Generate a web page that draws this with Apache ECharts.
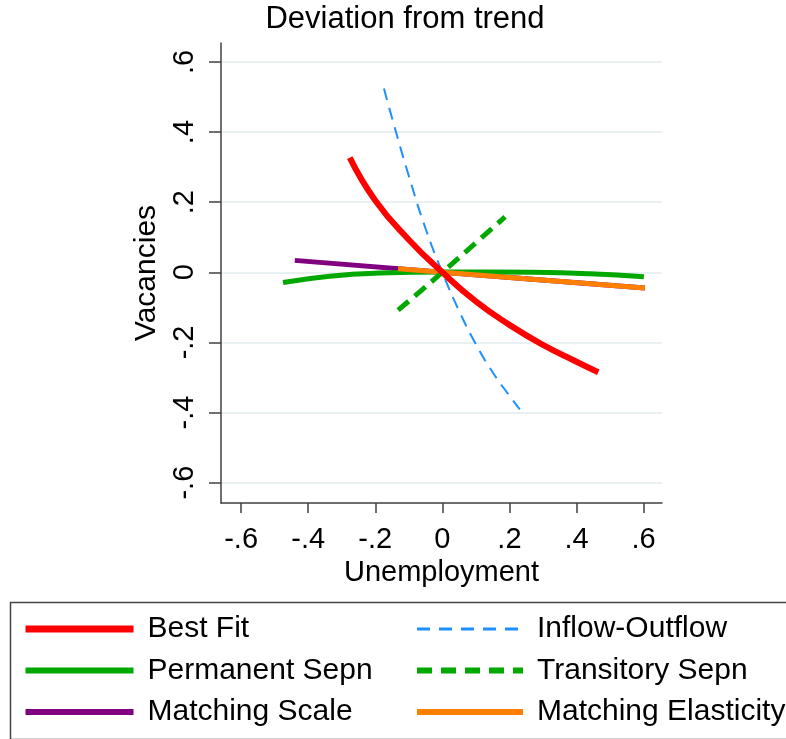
<!DOCTYPE html>
<html>
<head>
<meta charset="utf-8">
<script src="https://cdn.jsdelivr.net/npm/echarts@6/dist/echarts.min.js"></script>
<style>
html,body{margin:0;padding:0;background:#fff;}
#chart{width:786px;height:739px;}
</style>
</head>
<body>
<div id="chart"></div>
<script>
// ---- data ----
const tickValues = [-0.6, -0.4, -0.2, 0, 0.2, 0.4, 0.6];

const bestFitX = [-0.276, -0.2, -0.1, 0, 0.1, 0.2, 0.3, 0.4, 0.465];
const bestFitY = [0.327, 0.205, 0.093, 0, -0.083, -0.15, -0.207, -0.255, -0.285];

const inflowX = [-0.174, -0.15, -0.1, -0.05, 0, 0.05, 0.1, 0.15, 0.2, 0.231];
const inflowY = [0.524, 0.44, 0.275, 0.125, 0, -0.11, -0.205, -0.285, -0.352, -0.391];

const permX = [-0.475, -0.336, -0.187, 0, 0.271, 0.44, 0.601];
const permY = [-0.029, -0.011, -0.002, 0.001, 0, -0.004, -0.013];

const transX = [-0.132, 0, 0.187];
const transY = [-0.108, 0, 0.158];

const scaleX = [-0.44, 0, 0.604];
const scaleY = [0.034, 0, -0.045];

const elastX = [-0.132, 0, 0.604];
const elastY = [0.010, 0, -0.045];

const legendCol1 = ['Best Fit', 'Permanent Sepn', 'Matching Scale'];
const legendCol2 = ['Inflow-Outflow', 'Transitory Sepn', 'Matching Elasticity'];

function zip(xs, ys) { return xs.map((x, i) => [x, ys[i]]); }
function fmt(v) {
  if (Math.abs(v) < 1e-9) return '0';
  return (v < 0 ? '-' : '') + Math.abs(v).toFixed(1).replace(/^0/, '');
}

const FONT = '"Liberation Sans", Arial, sans-serif';
const styles = {
  'Best Fit': {color: '#ff0000', width: 6, type: 'solid', z: 7},
  'Inflow-Outflow': {color: '#1e90ff', width: 2, type: [12, 8], z: 5},
  'Permanent Sepn': {color: '#00a800', width: 5, type: 'solid', z: 3},
  'Transitory Sepn': {color: '#00a800', width: 5, type: [14, 8], z: 6},
  'Matching Scale': {color: '#800080', width: 5, type: 'solid', z: 2},
  'Matching Elasticity': {color: '#ff8000', width: 5, type: 'solid', z: 4}
};

const chart = echarts.init(document.getElementById('chart'), null, {renderer: 'canvas'});

function lineSeries(name, xs, ys) {
  const s = styles[name];
  return {
    name: name, type: 'line', data: zip(xs, ys),
    showSymbol: false, symbol: 'none', smooth: true,
    lineStyle: {color: s.color, width: s.width, type: s.type},
    itemStyle: {color: s.color},
    z: s.z, animation: false, clip: true
  };
}

function legendData(list) {
  return list.map(n => {
    const s = styles[n];
    const legType = Array.isArray(s.type) ? (s.width > 3 ? [15, 9] : [13, 9]) : 'solid';
    return {
      name: n,
      itemStyle: {opacity: 0, borderWidth: 0},
      lineStyle: {color: s.color, width: s.width + 1, type: legType, opacity: 1}
    };
  });
}

function legendBox(left, list, w) {
  return {
    orient: 'vertical', left: left, top: 614, height: 130, padding: 0,
    itemWidth: w, itemHeight: 30, itemGap: 11.5,
    data: legendData(list),
    textStyle: {fontFamily: FONT, fontSize: 30, color: '#000', lineHeight: 30, padding: [0, 0, 0, 9]},
    selectedMode: false
  };
}

const option = {
  backgroundColor: '#ffffff',
  animation: false,
  title: {
    text: 'Deviation from trend', left: 400, textAlign: 'center', top: -1,
    textStyle: {fontFamily: FONT, fontSize: 31, fontWeight: 'normal', color: '#000'}
  },
  grid: {left: 221, top: 43, width: 441, height: 460, containLabel: false},
  xAxis: {
    type: 'value', min: -0.66, max: 0.655,
    name: 'Unemployment', nameLocation: 'middle', nameGap: 47,
    nameTextStyle: {fontFamily: FONT, fontSize: 29, color: '#000'},
    axisLine: {show: true, onZero: false, lineStyle: {color: '#404040', width: 1.5}},
    axisTick: {show: true, length: 10, lineStyle: {color: '#404040', width: 1.5}, customValues: tickValues},
    axisLabel: {fontFamily: FONT, fontSize: 29, color: '#000', margin: 22, formatter: fmt, customValues: tickValues},
    splitLine: {show: false}
  },
  yAxis: {
    type: 'value', min: -0.658, max: 0.654,
    name: 'Vacancies', nameLocation: 'middle', nameGap: 42, nameRotate: 90,
    nameTextStyle: {fontFamily: FONT, fontSize: 30, color: '#000'},
    axisLine: {show: true, onZero: false, lineStyle: {color: '#404040', width: 1.5}},
    axisTick: {show: true, length: 12, lineStyle: {color: '#404040', width: 1.5}, customValues: tickValues},
    axisLabel: {fontFamily: FONT, fontSize: 29, color: '#000', margin: 22, rotate: 90, formatter: fmt, customValues: tickValues},
    splitLine: {show: true, lineStyle: {color: '#e8f0f2', width: 2}}
  },
  legend: [legendBox(22, legendCol1, 108), legendBox(414, legendCol2, 106)],
  graphic: [
    {type: 'rect', left: 8, top: 600, shape: {width: 800, height: 137},
     style: {fill: 'none', stroke: '#444', lineWidth: 1.5}, silent: true, z: -1}
  ],
  series: [
    lineSeries('Matching Scale', scaleX, scaleY),
    lineSeries('Permanent Sepn', permX, permY),
    lineSeries('Matching Elasticity', elastX, elastY),
    lineSeries('Inflow-Outflow', inflowX, inflowY),
    lineSeries('Transitory Sepn', transX, transY),
    lineSeries('Best Fit', bestFitX, bestFitY)
  ]
};
chart.setOption(option);
</script>
</body>
</html>
